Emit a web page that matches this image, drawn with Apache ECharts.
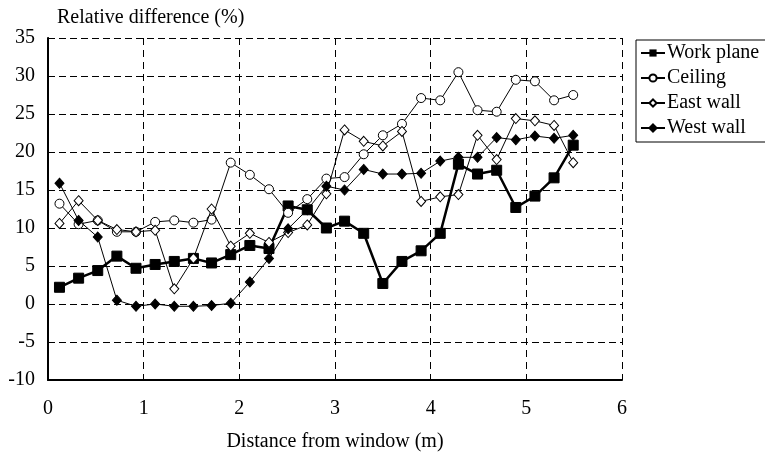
<!DOCTYPE html>
<html>
<head>
<meta charset="utf-8">
<script src="https://cdn.jsdelivr.net/npm/echarts@6/dist/echarts.min.js"></script>
<style>html,body{margin:0;padding:0;background:#fff}#c{width:765px;height:461px}</style>
</head>
<body>
<div id="c"></div>
<script>
const distances = [0.12, 0.32, 0.52, 0.72, 0.92, 1.12, 1.32, 1.52, 1.71, 1.91, 2.11, 2.31, 2.51, 2.71, 2.91, 3.10, 3.30, 3.50, 3.70, 3.90, 4.10, 4.29, 4.49, 4.69, 4.89, 5.09, 5.29, 5.49];
const workPlane = [2.2, 3.4, 4.4, 6.3, 4.7, 5.2, 5.6, 6.0, 5.4, 6.5, 7.7, 7.3, 12.9, 12.4, 10.0, 10.9, 9.3, 2.7, 5.6, 7.0, 9.3, 18.4, 17.1, 17.6, 12.7, 14.2, 16.6, 20.9];
const ceiling = [13.2, 10.5, 11.0, 9.5, 9.5, 10.8, 11.0, 10.7, 11.1, 18.6, 17.0, 15.1, 12.0, 13.8, 16.5, 16.7, 19.7, 22.2, 23.7, 27.1, 26.8, 30.5, 25.5, 25.3, 29.5, 29.3, 26.8, 27.5];
const eastWall = [10.6, 13.6, 11.0, 9.8, 9.5, 9.7, 2.0, 6.0, 12.5, 7.6, 9.3, 8.1, 9.4, 10.4, 14.5, 22.9, 21.4, 20.8, 22.7, 13.5, 14.1, 14.4, 22.2, 19.0, 24.4, 24.1, 23.5, 18.6];
const westWall = [15.9, 11.0, 8.8, 0.5, -0.3, 0.0, -0.3, -0.3, -0.2, 0.1, 2.9, 6.0, 9.9, 12.4, 15.5, 15.0, 17.7, 17.1, 17.1, 17.2, 18.8, 19.3, 19.3, 21.9, 21.6, 22.1, 21.8, 22.2];
const seriesNames = ['Work plane', 'Ceiling', 'East wall', 'West wall'];
const xTicks = [0, 1, 2, 3, 4, 5, 6];
const yTicks = [-10, -5, 0, 5, 10, 15, 20, 25, 30, 35];

const FONT = 'Liberation Serif';
const pair = arr => distances.map((d, i) => [d, arr[i]]);

const chart = echarts.init(document.getElementById('c'), null, {renderer: 'canvas'});
chart.setOption({
  animation: false,
  backgroundColor: '#fff',
  textStyle: {fontFamily: FONT, color: '#000'},
  grid: {left: 48, top: 38, right: 143, bottom: 81, containLabel: false},
  legend: {
    orient: 'vertical', left: 636, top: 40,
    data: seriesNames,
    borderColor: '#000', borderWidth: 1, borderRadius: 0,
    padding: [3, 24, 4, 4], itemGap: 5, itemWidth: 24, itemHeight: 9,
    textStyle: {fontFamily: FONT, fontSize: 20, color: '#000', padding: [0, 0, 0, -3]}
  },
  xAxis: {
    type: 'value', min: xTicks[0], max: xTicks[xTicks.length - 1], interval: 1,
    name: 'Distance from window (m)', nameLocation: 'middle', nameGap: 52,
    nameTextStyle: {fontFamily: FONT, fontSize: 20, color: '#000'},
    axisLine: {show: true, onZero: false, lineStyle: {color: '#000', width: 2}},
    axisTick: {show: false},
    axisLabel: {fontFamily: FONT, fontSize: 20, color: '#000', margin: 19},
    splitLine: {show: true, lineStyle: {color: '#000', width: 1, type: [7, 5]}}
  },
  yAxis: [{
    type: 'value', min: yTicks[0], max: yTicks[yTicks.length - 1], interval: 5,
    name: 'Relative difference (%)', nameLocation: 'end', nameGap: 10,
    nameTextStyle: {fontFamily: FONT, fontSize: 20, color: '#000', align: 'left', padding: [0, 0, 0, 9]},
    axisLine: {show: true, onZero: false, lineStyle: {color: '#000', width: 2}},
    axisTick: {show: false},
    axisLabel: {fontFamily: FONT, fontSize: 20, color: '#000', margin: 13},
    splitLine: {show: true, lineStyle: {color: '#000', width: 1, type: [7, 4]}}
  }, {
    type: 'value', position: 'right', min: yTicks[0], max: yTicks[yTicks.length - 1], interval: 5,
    axisLine: {show: true, lineStyle: {color: '#000', width: 1}},
    axisTick: {show: false}, axisLabel: {show: false}, splitLine: {show: false}
  }],
  series: [
    {name: seriesNames[0], type: 'line', data: pair(workPlane), symbol: 'rect', symbolSize: 10,
     lineStyle: {color: '#000', width: 2.5}, itemStyle: {color: '#000', borderColor: '#000'}, z: 2},
    {name: seriesNames[1], type: 'line', data: pair(ceiling), symbol: 'circle', symbolSize: 9,
     lineStyle: {color: '#000', width: 1}, itemStyle: {color: '#fff', borderColor: '#000', borderWidth: 1}, z: 3},
    {name: seriesNames[2], type: 'line', data: pair(eastWall), symbol: 'diamond', symbolSize: [9, 10],
     lineStyle: {color: '#000', width: 1}, itemStyle: {color: '#fff', borderColor: '#000', borderWidth: 1}, z: 4},
    {name: seriesNames[3], type: 'line', data: pair(westWall), symbol: 'diamond', symbolSize: [9, 10],
     lineStyle: {color: '#000', width: 1}, itemStyle: {color: '#000', borderColor: '#000', borderWidth: 1}, z: 5}
  ]
});
</script>
</body>
</html>
